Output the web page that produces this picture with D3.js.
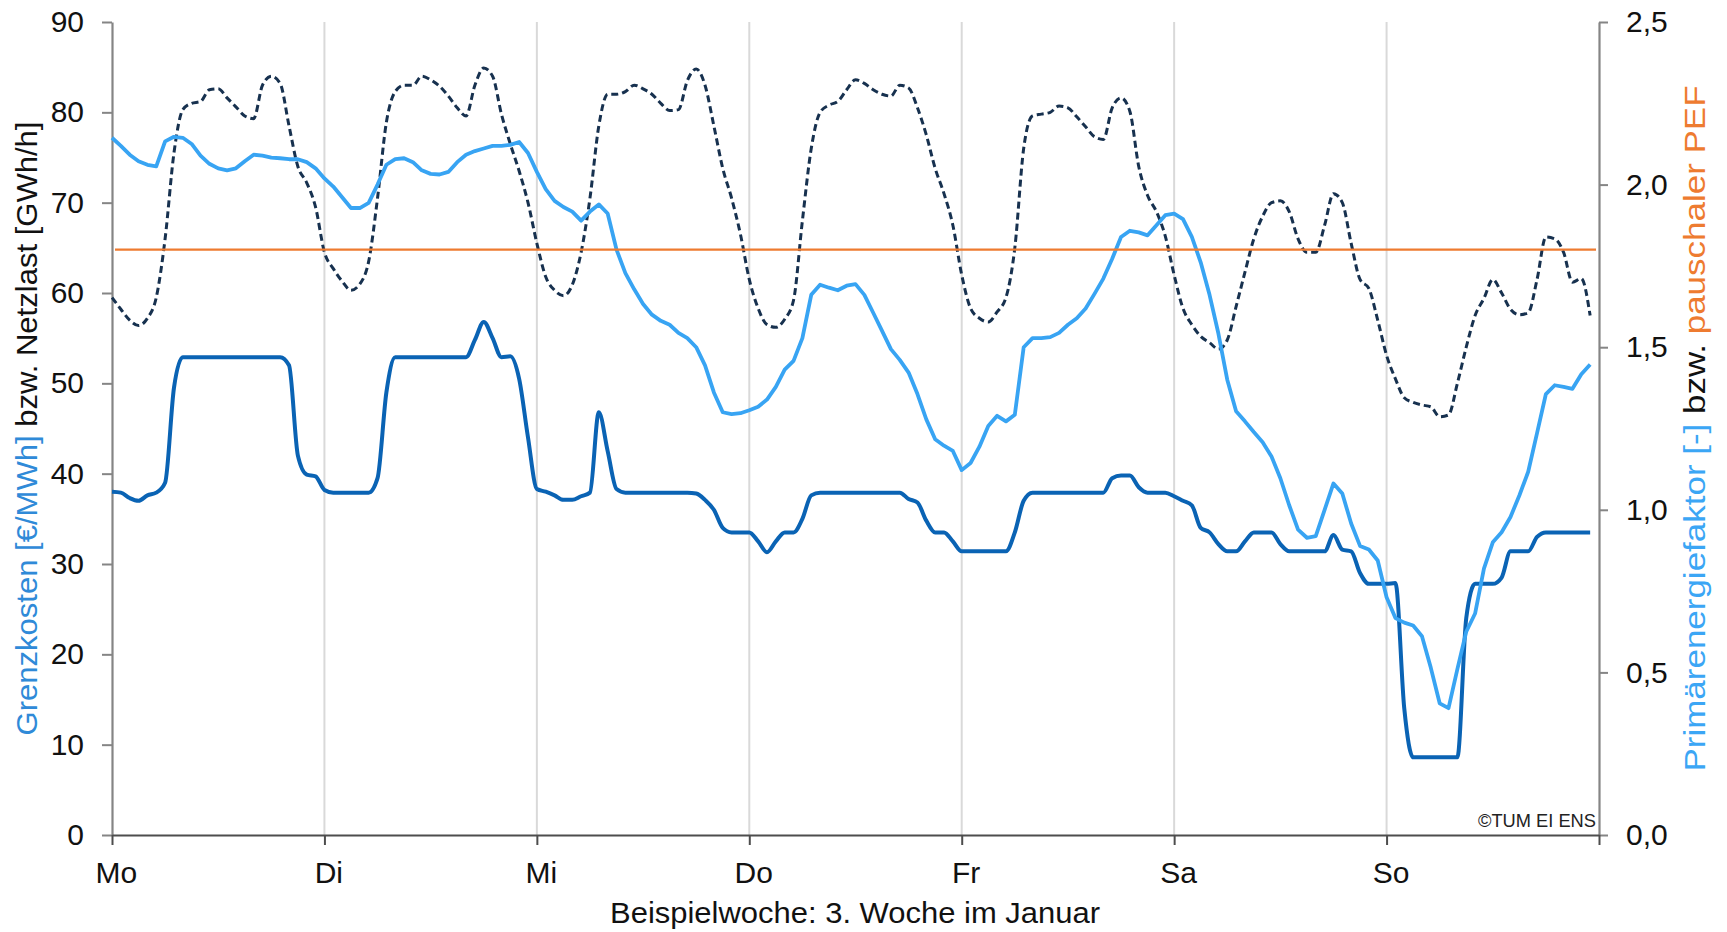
<!DOCTYPE html>
<html>
<head>
<meta charset="utf-8">
<script src="https://cdn.jsdelivr.net/npm/d3@7"></script>
<style>
  html, body { margin: 0; padding: 0; background: #fff; }
  svg { display: block; font-family: "Liberation Sans", Arial, sans-serif; }
</style>
</head>
<body>
<svg id="chart" width="1727" height="932"></svg>
<script>
// ---------- DATA (hourly, Mo 00:00 .. So 23:00) ----------
const dayLabels = ["Mo", "Di", "Mi", "Do", "Fr", "Sa", "So"];
const leftTicks = [0, 10, 20, 30, 40, 50, 60, 70, 80, 90];
const rightTicks = [0, 0.5, 1.0, 1.5, 2.0, 2.5];
const pefPauschal = 1.8;

// Grenzkosten [€/MWh]
const grenzkosten = [
  38.0, 37.9, 37.3, 37.0, 37.6, 37.9, 39.0, 49.5, 52.9, 52.9, 52.9, 52.9,
  52.9, 52.9, 52.9, 52.9, 52.9, 52.9, 52.9, 52.9, 52.0, 42.0, 39.9, 39.7,
  38.2, 37.9, 37.9, 37.9, 37.9, 37.9, 39.5, 49.0, 52.9, 52.9, 52.9, 52.9,
  52.9, 52.9, 52.9, 52.9, 52.9, 54.8, 56.8, 55.0, 52.9, 53.0, 50.5, 44.0,
  38.3, 38.0, 37.6, 37.1, 37.1, 37.5, 37.9, 46.8, 42.5, 38.3, 37.9, 37.9,
  37.9, 37.9, 37.9, 37.9, 37.9, 37.9, 37.8, 37.1, 36.0, 34.0, 33.5, 33.5,
  33.5, 32.5, 31.3, 32.5, 33.5, 33.5, 35.0, 37.6, 37.9, 37.9, 37.9, 37.9,
  37.9, 37.9, 37.9, 37.9, 37.9, 37.9, 37.2, 36.8, 34.8, 33.5, 33.5, 32.5,
  31.4, 31.4, 31.4, 31.4, 31.4, 31.4, 33.5, 37.0, 37.9, 37.9, 37.9, 37.9,
  37.9, 37.9, 37.9, 37.9, 37.9, 39.5, 39.8, 39.8, 38.5, 37.9, 37.9, 37.9,
  37.5, 37.0, 36.5, 34.0, 33.5, 32.2, 31.4, 31.4, 32.5, 33.5, 33.5, 33.5,
  32.2, 31.4, 31.4, 31.4, 31.4, 31.4, 33.2, 31.6, 31.4, 29.0, 27.8, 27.8,
  27.8, 27.9, 14.0, 8.6, 8.6, 8.6, 8.6, 8.6, 8.6, 24.0, 27.8, 27.8,
  27.8, 28.5, 31.4, 31.4, 31.4, 33.0, 33.5, 33.5, 33.5, 33.5, 33.5, 33.5
];

// Netzlast [GWh/h]
const netzlast = [
  59.5, 58.2, 57.0, 56.4, 57.2, 59.5, 66.0, 75.5, 80.3, 81.0, 81.2, 82.5,
  82.6, 81.6, 80.6, 79.6, 79.3, 83.0, 84.0, 83.2, 78.5, 74.0, 72.2, 69.5,
  64.5, 62.7, 61.3, 60.3, 61.0, 63.5, 70.5, 78.9, 82.3, 83.0, 83.0, 84.0,
  83.6, 82.9, 81.8, 80.5, 79.6, 83.0, 84.9, 84.0, 79.8, 76.5, 73.5, 70.0,
  65.5, 61.8, 60.3, 59.7, 60.9, 64.5, 70.5, 78.5, 82.0, 82.0, 82.3, 83.0,
  82.6, 82.0, 81.0, 80.2, 80.3, 83.5, 84.8, 83.0, 78.5, 73.8, 70.5, 66.5,
  61.5, 58.3, 56.5, 56.2, 57.1, 59.2, 68.0, 76.0, 80.0, 80.8, 81.2, 82.5,
  83.6, 83.2, 82.5, 82.0, 81.8, 83.0, 82.7, 80.5, 77.5, 73.8, 71.0, 67.5,
  62.0, 58.3, 57.2, 56.8, 57.9, 59.5, 65.0, 76.0, 79.6, 79.8, 80.0, 80.7,
  80.5, 79.5, 78.4, 77.3, 77.0, 80.5, 81.6, 80.1, 74.0, 70.8, 69.0, 66.3,
  62.0, 58.3, 56.5, 55.2, 54.5, 53.8, 54.8, 58.5, 62.3, 66.0, 68.5, 70.0,
  70.2, 69.0, 66.0, 64.5, 64.5, 67.5, 71.0, 70.0, 65.5, 61.5, 60.5, 57.0,
  53.1, 50.5, 48.4, 47.9, 47.6, 47.4, 46.3, 46.5, 50.0, 54.0, 57.5, 59.4,
  61.5, 60.0, 58.2, 57.6, 57.8, 61.5, 66.2, 66.0, 64.5, 61.2, 61.6, 57.5
];

// Primärenergiefaktor [-]
const pef = [
  2.144, 2.119, 2.092, 2.072, 2.061, 2.056, 2.133, 2.147, 2.144, 2.125, 2.089, 2.064,
  2.050, 2.044, 2.050, 2.072, 2.092, 2.089, 2.083, 2.081, 2.078, 2.078, 2.069, 2.050,
  2.019, 1.994, 1.961, 1.928, 1.928, 1.944, 2.000, 2.061, 2.078, 2.081, 2.069, 2.044,
  2.033, 2.031, 2.039, 2.069, 2.092, 2.103, 2.111, 2.119, 2.119, 2.122, 2.131, 2.097,
  2.039, 1.986, 1.950, 1.931, 1.917, 1.889, 1.917, 1.939, 1.911, 1.800, 1.728, 1.678,
  1.633, 1.600, 1.581, 1.569, 1.544, 1.528, 1.500, 1.444, 1.361, 1.300, 1.294, 1.297,
  1.306, 1.317, 1.339, 1.378, 1.431, 1.458, 1.528, 1.661, 1.692, 1.683, 1.675, 1.689,
  1.694, 1.661, 1.606, 1.550, 1.494, 1.461, 1.422, 1.356, 1.278, 1.217, 1.197, 1.181,
  1.122, 1.144, 1.194, 1.258, 1.289, 1.272, 1.292, 1.500, 1.528, 1.528, 1.531, 1.544,
  1.569, 1.589, 1.619, 1.664, 1.711, 1.772, 1.839, 1.858, 1.853, 1.844, 1.875, 1.906,
  1.911, 1.894, 1.839, 1.761, 1.661, 1.542, 1.400, 1.303, 1.272, 1.239, 1.208, 1.164,
  1.097, 1.014, 0.939, 0.914, 0.919, 1.000, 1.081, 1.050, 0.958, 0.889, 0.878, 0.844,
  0.731, 0.667, 0.653, 0.644, 0.611, 0.514, 0.405, 0.390, 0.510, 0.625, 0.681, 0.819,
  0.900, 0.931, 0.978, 1.044, 1.117, 1.236, 1.356, 1.383, 1.378, 1.372, 1.417, 1.447
];

// ---------- CHART ----------
const W = 1727, H = 932;
const m = { left: 112, right: 1599, top: 22, bottom: 835 };
const hoursTotal = dayLabels.length * 24;

const svg = d3.select("#chart");
svg.append("rect").attr("width", W).attr("height", H).attr("fill", "#fff");

const x = d3.scaleLinear().domain([0, hoursTotal]).range([m.left, m.right]);
const yL = d3.scaleLinear().domain([0, 90]).range([m.bottom, m.top]);
const yR = d3.scaleLinear().domain([0, 2.5]).range([m.bottom, m.top]);

const fontFam = '"Liberation Sans", Arial, sans-serif';

// vertical day gridlines
svg.append("g").selectAll("line")
  .data(d3.range(1, dayLabels.length))
  .join("line")
  .attr("x1", d => x(d * 24)).attr("x2", d => x(d * 24))
  .attr("y1", m.top).attr("y2", m.bottom)
  .attr("stroke", "#d9d9d9").attr("stroke-width", 2);

// axes
const axisColor = "#858585";
const gL = svg.append("g").attr("transform", `translate(${m.left},0)`)
  .call(d3.axisLeft(yL).tickValues(leftTicks).tickSize(10).tickSizeOuter(0).tickPadding(18)
    .tickFormat(d3.format("d")));
const gR = svg.append("g").attr("transform", `translate(${m.right},0)`)
  .call(d3.axisRight(yR).tickValues(rightTicks).tickSize(9).tickSizeOuter(0).tickPadding(18)
    .tickFormat(d => d3.format(".1f")(d).replace(".", ",")));
const gB = svg.append("g").attr("transform", `translate(0,${m.bottom})`)
  .call(d3.axisBottom(x).tickValues(d3.range(0, hoursTotal + 1, 24)).tickSize(10).tickSizeOuter(0)
    .tickFormat(""));

[gL, gR].forEach(g => {
  g.select(".domain").attr("stroke", axisColor).attr("stroke-width", 2.2);
  g.selectAll(".tick line").attr("stroke", axisColor).attr("stroke-width", 2);
  g.selectAll(".tick text").attr("font-size", 30).attr("fill", "#111")
    .attr("font-family", fontFam);
});
gB.select(".domain").attr("stroke", "#4d4d4d").attr("stroke-width", 2.2);
gB.selectAll(".tick line").attr("stroke", "#4d4d4d").attr("stroke-width", 2);

// day labels (Excel category centre, slightly right of the tick)
svg.append("g").selectAll("text")
  .data(dayLabels)
  .join("text")
  .attr("x", (d, i) => x(i * 24 + 0.5))
  .attr("y", 883)
  .attr("text-anchor", "middle")
  .attr("font-size", 30).attr("font-family", fontFam).attr("fill", "#111")
  .text(d => d);

// x title
svg.append("text")
  .attr("x", 855).attr("y", 923)
  .attr("text-anchor", "middle")
  .attr("font-size", 30).attr("font-family", fontFam).attr("fill", "#111")
  .attr("textLength", 490).attr("lengthAdjust", "spacingAndGlyphs")
  .text("Beispielwoche: 3. Woche im Januar");

// left title
const tL = svg.append("text")
  .attr("transform", `translate(37,${(m.top + m.bottom) / 2}) rotate(-90)`)
  .attr("text-anchor", "middle")
  .attr("font-size", 30).attr("font-family", fontFam)
  .attr("textLength", 614).attr("lengthAdjust", "spacingAndGlyphs");
tL.append("tspan").attr("fill", "#2f8ad8").text("Grenzkosten [€/MWh]");
tL.append("tspan").attr("fill", "#111").text(" bzw. Netzlast [GWh/h]");

// right title
const tR = svg.append("text")
  .attr("transform", `translate(1705,${(m.top + m.bottom) / 2}) rotate(-90)`)
  .attr("text-anchor", "middle")
  .attr("font-size", 30).attr("font-family", fontFam)
  .attr("textLength", 686).attr("lengthAdjust", "spacingAndGlyphs");
tR.append("tspan").attr("fill", "#3ba6f5").text("Primärenergiefaktor [-]");
tR.append("tspan").attr("fill", "#111").text(" bzw. ");
tR.append("tspan").attr("fill", "#ee7b30").text("pauschaler PEF");

// copyright
svg.append("text")
  .attr("x", 1596).attr("y", 827)
  .attr("text-anchor", "end")
  .attr("font-size", 18).attr("font-family", fontFam).attr("fill", "#222")
  .attr("textLength", 118).attr("lengthAdjust", "spacingAndGlyphs")
  .text("©TUM EI ENS");

// ---------- LINES ----------
const plot = svg.append("g");
const lineL = d3.line().x((d, i) => x(i)).y(d => yL(d)).curve(d3.curveMonotoneX);
const lineR = d3.line().x((d, i) => x(i)).y(d => yR(d)).curve(d3.curveLinear);

plot.append("path").datum(grenzkosten)
  .attr("d", lineL).attr("fill", "none")
  .attr("stroke", "#0a63b4").attr("stroke-width", 4).attr("stroke-linejoin", "round");

plot.append("path").datum(netzlast)
  .attr("d", lineL).attr("fill", "none")
  .attr("stroke", "#17314f").attr("stroke-width", 3).attr("stroke-dasharray", "7,4");

plot.append("path").datum(pef)
  .attr("d", lineR).attr("fill", "none")
  .attr("stroke", "#38a4f3").attr("stroke-width", 3.8).attr("stroke-linejoin", "round");

plot.append("line")
  .datum(pefPauschal)
  .attr("x1", x(0) + 3).attr("x2", x(hoursTotal) - 3)
  .attr("y1", d => yR(d)).attr("y2", d => yR(d))
  .attr("stroke", "#ee7b30").attr("stroke-width", 2.4);
</script>
</body>
</html>
